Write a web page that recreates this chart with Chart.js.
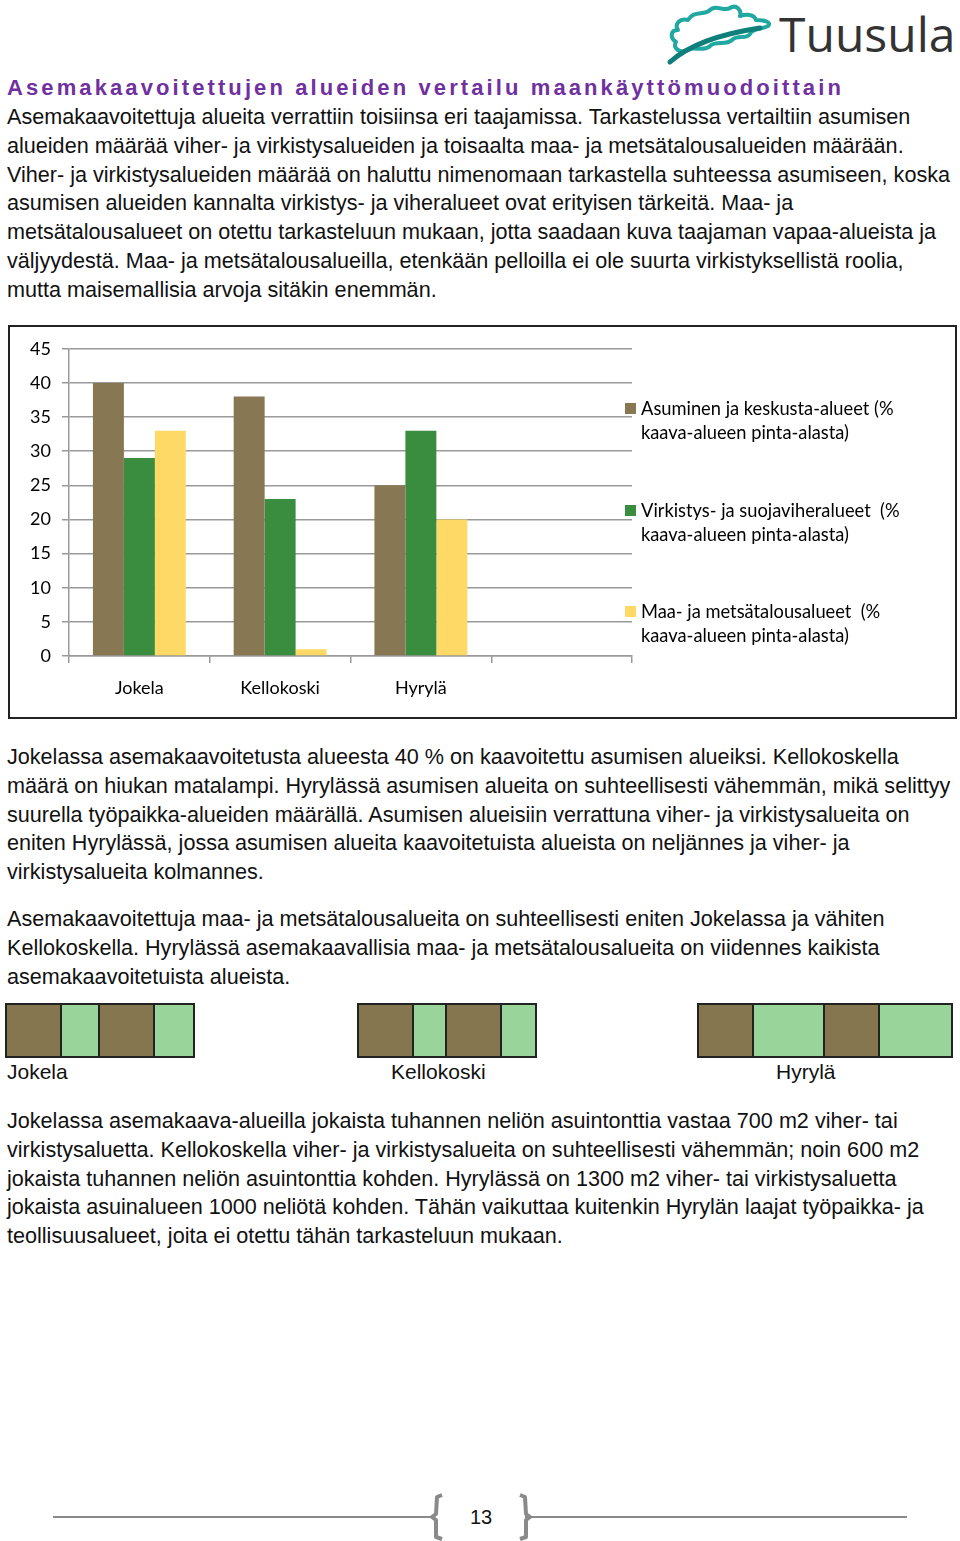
<!DOCTYPE html>
<html>
<head>
<meta charset="utf-8">
<script src="https://cdn.jsdelivr.net/npm/chart.js@4.4.1/dist/chart.umd.min.js"></script>
<style>
  body { margin:0; width:960px; height:1541px; background:#fff; position:relative; overflow:hidden; font-family:"Liberation Sans", Arial, sans-serif; color:#111; }
  .abs { position:absolute; }
  .p { font-size:21.6px; line-height:28.8px; white-space:nowrap; left:7px; }
  .h { left:7px; top:74px; font-size:22px; line-height:28px; font-weight:bold; color:#7030A0; letter-spacing:3.1px; white-space:nowrap; }
  #chartBox { left:8px; top:325px; width:945px; height:390px; border:2px solid #222; }
  #chartWrap { position:absolute; left:0; top:0; width:945px; height:390px; }
  .leg { position:absolute; left:615px; font-family:Lato, sans-serif; font-size:18.3px; line-height:24px; color:#000; white-space:pre; }
  .leg i { position:absolute; left:0; top:7px; width:11px; height:11px; }
  .leg span { display:block; padding-left:16px; }
  .blk { position:absolute; top:1003px; height:51px; border:2px solid #222; display:flex; }
  .blk div { box-sizing:border-box; height:100%; border-right:2px solid #222; }
  .blk div:last-child { border-right:none; }
  .blab { position:absolute; top:1058px; font-family:"Liberation Sans Narrow", "Liberation Sans", sans-serif; font-size:21px; line-height:28px; }
</style>
</head>
<body>

<svg class="abs" style="left:660px;top:0px" width="300" height="70" viewBox="0 0 300 70">
  <path d="M28 20 C34 10, 44 16, 50 10 C56 4, 64 12, 70 8 C76 4, 82 10, 80 16 C86 14, 94 14, 96 20 C104 20, 112 22, 108 26 C100 30, 92 28, 90 34 C86 40, 78 34, 72 40 C66 46, 56 40, 50 46 C44 52, 34 46, 28 50 C20 54, 12 48, 16 42 C10 38, 10 30, 18 30 C14 24, 20 18, 28 20 Z" fill="none" stroke="#21a8a0" stroke-width="4" stroke-linejoin="round"/>
  <path d="M10 62 C30 44, 60 34, 100 28" fill="none" stroke="#0f7f7b" stroke-width="5" stroke-linecap="round"/>
  <text x="119" y="52" font-family="Open Sans, sans-serif" font-size="48" fill="#333">Tuusula</text>
</svg>

<div class="abs h">Asemakaavoitettujen alueiden vertailu maankäyttömuodoittain</div>
<div class="abs p" style="top:103px">Asemakaavoitettuja alueita verrattiin toisiinsa eri taajamissa. Tarkastelussa vertailtiin asumisen<br>alueiden määrää viher- ja virkistysalueiden ja toisaalta maa- ja metsätalousalueiden määrään.<br>Viher- ja virkistysalueiden määrää on haluttu nimenomaan tarkastella suhteessa asumiseen, koska<br>asumisen alueiden kannalta virkistys- ja viheralueet ovat erityisen tärkeitä. Maa- ja<br>metsätalousalueet on otettu tarkasteluun mukaan, jotta saadaan kuva taajaman vapaa-alueista ja<br>väljyydestä. Maa- ja metsätalousalueilla, etenkään pelloilla ei ole suurta virkistyksellistä roolia,<br>mutta maisemallisia arvoja sitäkin enemmän.</div>

<div id="chartBox" class="abs">
  <div id="chartWrap"><canvas id="chart" width="945" height="390"></canvas></div>
  <div id="legend"></div>
</div>

<div class="abs p" style="top:743px">Jokelassa asemakaavoitetusta alueesta 40 % on kaavoitettu asumisen alueiksi. Kellokoskella<br>määrä on hiukan matalampi. Hyrylässä asumisen alueita on suhteellisesti vähemmän, mikä selittyy<br>suurella työpaikka-alueiden määrällä. Asumisen alueisiin verrattuna viher- ja virkistysalueita on<br>eniten Hyrylässä, jossa asumisen alueita kaavoitetuista alueista on neljännes ja viher- ja<br>virkistysalueita kolmannes.</div>
<div class="abs p" style="top:905px">Asemakaavoitettuja maa- ja metsätalousalueita on suhteellisesti eniten Jokelassa ja vähiten<br>Kellokoskella. Hyrylässä asemakaavallisia maa- ja metsätalousalueita on viidennes kaikista<br>asemakaavoitetuista alueista.</div>

<div id="blocks"></div>

<div class="abs p" style="top:1107px">Jokelassa asemakaava-alueilla jokaista tuhannen neliön asuintonttia vastaa 700 m2 viher- tai<br>virkistysaluetta. Kellokoskella viher- ja virkistysalueita on suhteellisesti vähemmän; noin 600 m2<br>jokaista tuhannen neliön asuintonttia kohden. Hyrylässä on 1300 m2 viher- tai virkistysaluetta<br>jokaista asuinalueen 1000 neliötä kohden. Tähän vaikuttaa kuitenkin Hyrylän laajat työpaikka- ja<br>teollisuusalueet, joita ei otettu tähän tarkasteluun mukaan.</div>

<svg class="abs" style="left:0;top:1490px" width="960" height="51">
  <line x1="53" y1="27" x2="433" y2="27" stroke="#8a8a8a" stroke-width="2"/>
  <line x1="525" y1="27" x2="907" y2="27" stroke="#8a8a8a" stroke-width="2"/>
  <path d="M442 5 L437 7 L436 24 L432 27 L436 30 L436 47 L442 49" fill="none" stroke="#8a8a8a" stroke-width="4" stroke-linejoin="round"/>
  <path d="M520 5 L525 7 L526 24 L530 27 L526 30 L526 47 L520 49" fill="none" stroke="#8a8a8a" stroke-width="4" stroke-linejoin="round"/>
  <text x="481" y="34" text-anchor="middle" font-family="Liberation Sans, Arial, sans-serif" font-size="20" fill="#111">13</text>
</svg>

<script>
// chart data
const categories = ['Jokela', 'Kellokoski', 'Hyrylä', ''];
const asuminen = [40, 38, 25, null];
const virkistys = [29, 23, 33, null];
const maaMetsa = [33, 1, 20, null];
const yTicks = { min: 0, max: 45, step: 5 };

const seriesNames = [
  ['Asuminen ja keskusta-alueet (%', 'kaava-alueen pinta-alasta)'],
  ['Virkistys- ja suojaviheralueet  (%', 'kaava-alueen pinta-alasta)'],
  ['Maa- ja metsätalousalueet  (%', 'kaava-alueen pinta-alasta)']
];
const seriesColors = ['#877853', '#3a8c3f', '#ffd966'];

// green area per 1000 m2 of housing plots (m2)
const blockTowns = ['Jokela', 'Kellokoski', 'Hyrylä'];
const housingArea = [1000, 1000, 1000];
const greenArea = [700, 600, 1300];

const chartFont = 'Lato, sans-serif';

new Chart(document.getElementById('chart'), {
  type: 'bar',
  data: {
    labels: categories,
    datasets: [asuminen, virkistys, maaMetsa].map((d, i) => ({
      label: seriesNames[i].join(' '),
      data: d,
      backgroundColor: seriesColors[i],
      borderWidth: 0,
      categoryPercentage: 0.66,
      barPercentage: 1.0
    }))
  },
  options: {
    responsive: false,
    animation: false,
    layout: { padding: { top: 19, right: 323, left: 0, bottom: 0 } },
    plugins: { legend: { display: false }, tooltip: { enabled: false } },
    scales: {
      x: {
        afterFit: s => { s.height = 61; },
        grid: { drawOnChartArea: false, drawTicks: true, tickLength: 7, color: '#999', lineWidth: 1.5 },
        border: { color: '#999', width: 1.5 },
        ticks: { color: '#000', font: { family: chartFont, size: 18 }, padding: 14 }
      },
      y: {
        min: yTicks.min, max: yTicks.max,
        afterFit: s => { s.width = 59; },
        grid: { color: '#999', lineWidth: 1.5, tickLength: 7 },
        border: { color: '#999', width: 1.5 },
        ticks: { stepSize: yTicks.step, color: '#000', font: { family: chartFont, size: 18 }, padding: 11 }
      }
    }
  }
});

// legend
const legTops = [69, 171, 272];
document.getElementById('legend').innerHTML = seriesNames.map((n, i) =>
  `<div class="leg" style="top:${legTops[i]}px"><i style="background:${seriesColors[i]}"></i><span>${n[0]}</span><span>${n[1]}</span></div>`
).join('');

// area comparison blocks
const blockLeft = [5, 357, 697];
const labelLeft = [7, 391, 776];
const pxPerM2 = 0.0545;
document.getElementById('blocks').innerHTML = blockTowns.map((t, i) => {
  const h = Math.round(housingArea[i] * pxPerM2), g = Math.round(greenArea[i] * pxPerM2);
  const segs = [[h, '#857650'], [g, '#99d59b'], [h, '#857650'], [g, '#99d59b']];
  return `<div class="blk" style="left:${blockLeft[i]}px">` +
    segs.map(s => `<div style="width:${s[0]}px;background:${s[1]}"></div>`).join('') + '</div>' +
    `<div class="blab" style="left:${labelLeft[i]}px">${t}</div>`;
}).join('');
</script>
</body>
</html>
